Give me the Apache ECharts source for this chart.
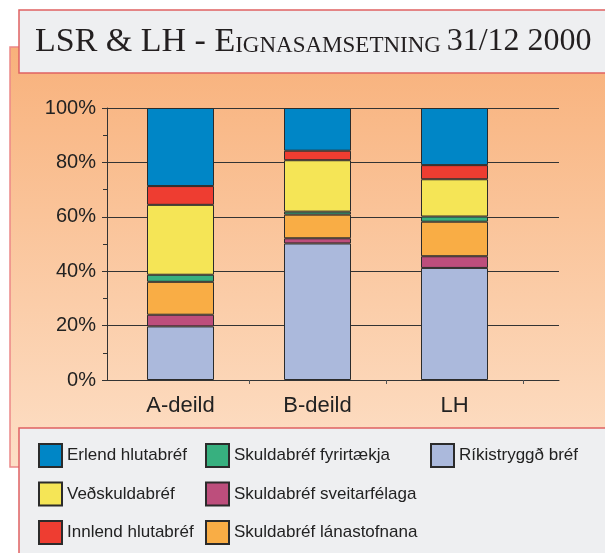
<!DOCTYPE html>
<html>
<head>
<meta charset="utf-8">
<script src="https://cdn.jsdelivr.net/npm/echarts@6/dist/echarts.min.js"></script>
<style>
  html, body { margin: 0; padding: 0; background: #fff; }
  #main { width: 605px; height: 553px; }
</style>
</head>
<body>
<div id="main"></div>
<script>
// flokkar (deildir)
var categories = ['A-deild', 'B-deild', 'LH'];

// hlutföll í % (neðst -> efst í súlu)
var rikistryggd   = [19.7, 50.2, 41.2];
var sveitarfelaga = [4.3, 1.9, 4.3];
var lanastofnana  = [12.1, 8.7, 12.7];
var fyrirtaekja   = [2.6, 1.1, 1.9];
var vedskuldabref = [25.7, 18.9, 13.7];
var innlend       = [6.9, 3.5, 5.2];
var erlend        = [28.7, 15.7, 21.0];

var yTicks = [0, 20, 40, 60, 80, 100];

var seriesNames = [
    'Ríkistryggð bréf', 'Skuldabréf sveitarfélaga', 'Skuldabréf lánastofnana',
    'Skuldabréf fyrirtækja', 'Veðskuldabréf', 'Innlend hlutabréf', 'Erlend hlutabréf'
];
var seriesData = [rikistryggd, sveitarfelaga, lanastofnana, fyrirtaekja, vedskuldabref, innlend, erlend];
var colors = ['#abb9dc', '#bd4e7c', '#f9ad45', '#37b07f', '#f5e556', '#ee3d31', '#0086c6'];

initChart();

function initChart(){
    var myChart = echarts.init(document.getElementById('main'));
    var seriesObj = [];
    seriesNames.forEach(function(name, i){
        seriesObj.push({
            name: name,
            type: 'bar',
            stack: 'all',
            xAxisIndex: 1,
            yAxisIndex: 1,
            barWidth: 67,
            itemStyle: { color: colors[i], borderColor: '#2b2b2b', borderWidth: 1 },
            emphasis: { disabled: true },
            data: seriesData[i]
        });
    });

    var legendText = { fontFamily: 'Liberation Sans, Arial, sans-serif', fontSize: 17, color: '#222' };
    var legendBase = {
        orient: 'vertical', top: 443, itemWidth: 23, itemHeight: 23, itemGap: 13.5,
        padding: 0, icon: 'rect', textStyle: legendText, selectedMode: false
    };

    var serif = 'Liberation Serif, serif';
    var option = {
        animation: false,
        title: {
            left: 35, top: 25, padding: 0,
            text: '{a|LSR & LH - E}{b|IGNASAMSETNING }{c|31/12 2000}',
            textStyle: {
                rich: {
                    a: { fontFamily: serif, fontWeight: 'normal', fontSize: 34, lineHeight: 34, color: '#231f20', verticalAlign: 'bottom' },
                    b: { fontFamily: serif, fontWeight: 'normal', fontSize: 23, lineHeight: 23, color: '#231f20', verticalAlign: 'bottom', padding: [0, 0, 2, 0] },
                    c: { fontFamily: serif, fontWeight: 'normal', fontSize: 32, lineHeight: 32, color: '#231f20', verticalAlign: 'bottom', padding: [0, 0, 1, 0] }
                }
            }
        },
        graphic: [
            {
                type: 'rect', z: -10, silent: true,
                shape: { x: 10, y: 47, width: 600, height: 420 },
                style: {
                    fill: new echarts.graphic.LinearGradient(0, 0, 0, 1, [
                        { offset: 0, color: '#f8b17b' },
                        { offset: 1, color: '#fddfc6' }
                    ]),
                    stroke: '#ec8888', lineWidth: 1.5
                }
            },
            {
                type: 'rect', z: -9, silent: true,
                shape: { x: 19, y: 10, width: 600, height: 63 },
                style: { fill: '#eeeff1', stroke: '#e06262', lineWidth: 1.5 }
            },
            {
                type: 'rect', z: -9, silent: true,
                shape: { x: 19, y: 428, width: 600, height: 140 },
                style: { fill: '#eeeff1', stroke: '#e06262', lineWidth: 1.5 }
            }
        ],
        legend: [
            Object.assign({}, legendBase, { left: 38, data: ['Erlend hlutabréf', 'Veðskuldabréf', 'Innlend hlutabréf'] }),
            Object.assign({}, legendBase, { left: 205, data: ['Skuldabréf fyrirtækja', 'Skuldabréf sveitarfélaga', 'Skuldabréf lánastofnana'] }),
            Object.assign({}, legendBase, { left: 430, data: ['Ríkistryggð bréf'] })
        ],
        grid: [
            { left: 107, right: 46, top: 108, bottom: 173 },
            { left: 112, right: 82, top: 108, bottom: 173 }
        ],
        xAxis: [
            {
                gridIndex: 0, type: 'category', data: categories,
                axisLine: { lineStyle: { color: '#333', width: 1 } },
                axisTick: { show: false }, axisLabel: { show: false }
            },
            {
                gridIndex: 1, type: 'category', data: categories,
                axisLine: { show: false },
                axisTick: {
                    show: true, length: 4, lineStyle: { color: '#555' },
                    interval: function(index){ return index === 1 || index === 2; }
                },
                axisLabel: {
                    margin: 15, fontSize: 22, color: '#222',
                    fontFamily: 'Liberation Sans, Arial, sans-serif'
                }
            }
        ],
        yAxis: [
            {
                gridIndex: 0, type: 'value', min: yTicks[0], max: yTicks[yTicks.length - 1], interval: 20,
                axisLine: { show: true, lineStyle: { color: '#333' } },
                axisTick: { show: true, length: 5, lineStyle: { color: '#333' } },
                minorTick: { show: true, splitNumber: 2, length: 4, lineStyle: { color: '#333' } },
                splitLine: { show: true, lineStyle: { color: '#333', width: 1 } },
                axisLabel: {
                    formatter: '{value}%', margin: 11, fontSize: 20, color: '#222',
                    fontFamily: 'Liberation Sans, Arial, sans-serif'
                }
            },
            {
                gridIndex: 1, type: 'value', min: 0, max: 100, show: false
            }
        ],
        series: seriesObj
    };

    myChart.setOption(option);
}
</script>
</body>
</html>
